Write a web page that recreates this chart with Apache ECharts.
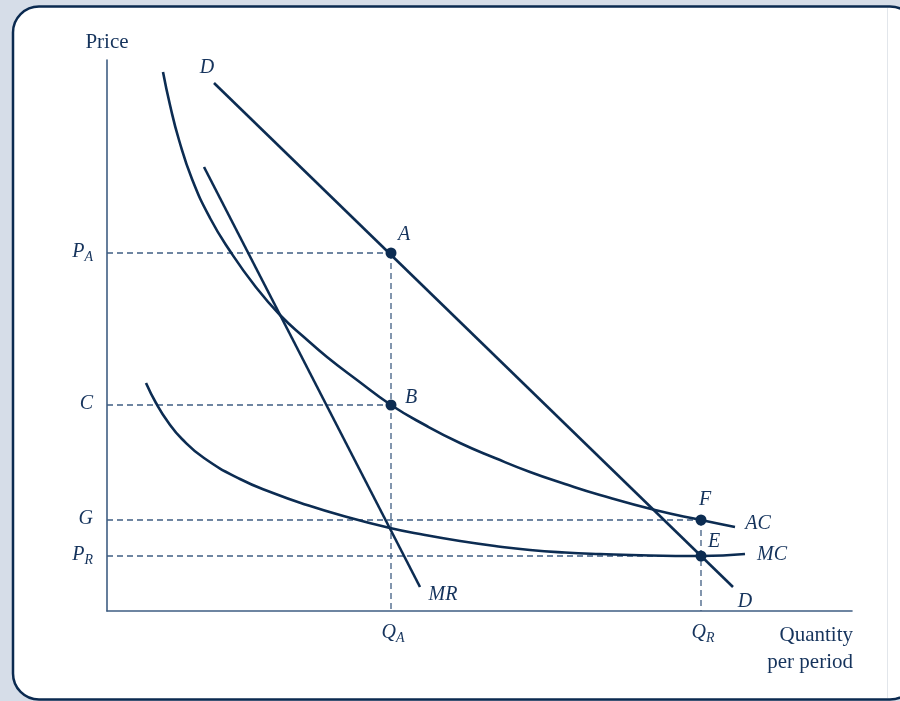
<!DOCTYPE html>
<html>
<head>
<meta charset="utf-8">
<script src="https://cdn.jsdelivr.net/npm/echarts@6/dist/echarts.min.js"></script>
<style>
html,body{margin:0;padding:0;background:#d6dde8;}
#chart{width:900px;height:701px;}
</style>
</head>
<body>
<div id="chart"></div>
<script>
// ---- data (quantity / price units) ----
const demandQ = [107, 626];
const demandP = [528, 24];
const mrQ = [97, 313];
const mrP = [444, 24];
const acQ = [56, 63, 72, 85, 103, 123, 148, 173, 198, 220, 250, 284, 318, 353, 388, 423, 458, 493, 548, 594, 628];
const acP = [539, 506, 471, 432, 393, 360, 325, 296, 273, 254, 231, 206, 186, 168, 153, 139, 127, 116, 101, 91, 84];
const mcQ = [39, 49, 61, 75, 97, 133, 166, 200, 233, 283, 318, 353, 388, 423, 458, 493, 543, 594, 638];
const mcP = [228, 208, 189, 172, 153, 132, 118, 106, 96, 83, 76, 70, 65, 61, 58.5, 57, 55.5, 55, 57];
const pointNames = ['A', 'B', 'F', 'E'];
const pointQ = [284, 284, 594, 594];
const pointP = [358, 206, 91, 55];
const priceTickLabels = ['P|A', 'C', 'G', 'P|R'];
const priceTickValues = [358, 206, 91, 55];
const qtyTickLabels = ['Q|A', 'Q|R'];
const qtyTickValues = [284, 594];
const xMax = 745, yMax = 551;

// ---- styling ----
const NAVY = '#0c2c52';
const AXIS = '#3f5d82';
const TEXT = '#15335c';
const SERIF = '"Liberation Serif", "DejaVu Serif", serif';

function zip(xs, ys) { return xs.map((x, i) => [x, ys[i]]); }
function sub(t) {
  const parts = t.split('|');
  return parts.length > 1 ? '{m|' + parts[0] + '}{s|' + parts[1] + '}' : '{m|' + parts[0] + '}';
}
const rich = {
  m: { fontFamily: SERIF, fontStyle: 'italic', fontSize: 20, color: TEXT, lineHeight: 22, verticalAlign: 'top', padding: [0, 0, 3, 0] },
  s: { fontFamily: SERIF, fontStyle: 'italic', fontSize: 14, color: TEXT, lineHeight: 14, verticalAlign: 'bottom' }
};

const curveStyle = { color: NAVY, width: 2.6 };
const dashStyle = { color: AXIS, width: 1.3, type: [6, 4] };

const series = [];
function addLine(data, smooth, style) {
  series.push({ type: 'line', data: data, smooth: smooth, symbol: 'none',
    lineStyle: style, silent: true, z: style === dashStyle ? 2 : 3 });
}
// dashed guide lines from the points to the axes
pointNames.forEach((n, i) => {
  addLine([[0, pointP[i]], [pointQ[i], pointP[i]]], false, dashStyle);
});
addLine([[pointQ[0], pointP[0]], [pointQ[0], 0]], false, dashStyle);
addLine([[pointQ[2], pointP[2]], [pointQ[2], 0]], false, dashStyle);

// curves
addLine(zip(demandQ, demandP), false, curveStyle);
addLine(zip(mrQ, mrP), false, curveStyle);
addLine(zip(acQ, acP), 0.5, curveStyle);
addLine(zip(mcQ, mcP), 0.5, curveStyle);

// points
series.push({
  type: 'scatter', data: zip(pointQ, pointP), symbolSize: 11,
  itemStyle: { color: NAVY, opacity: 1 }, z: 5, silent: true
});

// text labels anchored on data
const lbl = (value, text, offset) => ({
  value: value,
  label: { show: true, position: 'inside', formatter: text, offset: offset,
           fontFamily: SERIF, fontStyle: 'italic', fontSize: 20, color: TEXT }
});
const nLast = a => a[a.length - 1];
const curveLabels = [
  lbl([demandQ[0], demandP[0]], 'D', [-7, -15]),
  lbl([nLast(demandQ), nLast(demandP)], 'D', [12, 15]),
  lbl([nLast(mrQ), nLast(mrP)], 'MR', [23, 8]),
  lbl([nLast(acQ), nLast(acP)], 'AC', [23, -3]),
  lbl([nLast(mcQ), nLast(mcP)], 'MC', [27, 1]),
  lbl([pointQ[0], pointP[0]], pointNames[0], [13, -18]),
  lbl([pointQ[1], pointP[1]], pointNames[1], [20, -7]),
  lbl([pointQ[2], pointP[2]], pointNames[2], [4, -20]),
  lbl([pointQ[3], pointP[3]], pointNames[3], [13, -14])
];
const labelItem = { opacity: 1, color: 'rgba(0,0,0,0)' };
series.push({ type: 'scatter', data: curveLabels, symbolSize: 0, silent: true, z: 6, clip: false, itemStyle: labelItem });

// tick labels
series.push({
  type: 'scatter', symbolSize: 0, silent: true, clip: false, itemStyle: labelItem,
  data: priceTickValues.map((v, i) => ({ value: [0, v], label: { show: true, position: 'left', distance: 14, formatter: sub(priceTickLabels[i]), rich: rich } }))
});
series.push({
  type: 'scatter', symbolSize: 0, silent: true, clip: false, itemStyle: labelItem,
  data: qtyTickValues.map((v, i) => ({ value: [v, 0], label: { show: true, position: 'bottom', distance: 12, offset: [2, 0], formatter: sub(qtyTickLabels[i]), rich: rich } }))
});

const chart = echarts.init(document.getElementById('chart'), null, { renderer: 'canvas' });
chart.setOption({
  animation: false,
  backgroundColor: '#d6dde8',
  graphic: [
    { type: 'rect', z: -10, shape: { x: 13, y: 6.5, width: 903, height: 693, r: 26 },
      style: { fill: '#ffffff', stroke: '#0b2a50', lineWidth: 2.5 } },
    { type: 'line', z: -9, shape: { x1: 887.5, y1: 8, x2: 887.5, y2: 698 },
      style: { stroke: '#e2e6eb', lineWidth: 1 } }
  ],
  grid: { left: 107, right: 48, top: 60, bottom: 90 },
  xAxis: {
    type: 'value', min: 0, max: xMax,
    axisLine: { show: true, lineStyle: { color: AXIS, width: 1.6 } },
    axisTick: { show: false }, axisLabel: { show: false }, splitLine: { show: false },
    name: 'Quantity\nper period', nameLocation: 'end', nameGap: 1,
    nameTextStyle: { fontFamily: SERIF, fontSize: 21, color: TEXT, align: 'right', verticalAlign: 'top', lineHeight: 27, padding: [11, 0, 0, 0] }
  },
  yAxis: {
    type: 'value', min: 0, max: yMax,
    axisLine: { show: true, lineStyle: { color: AXIS, width: 1.6 } },
    axisTick: { show: false }, axisLabel: { show: false }, splitLine: { show: false },
    name: 'Price', nameLocation: 'end', nameGap: 7,
    nameTextStyle: { fontFamily: SERIF, fontSize: 21, color: TEXT }
  },
  series: series
});
</script>
</body>
</html>
